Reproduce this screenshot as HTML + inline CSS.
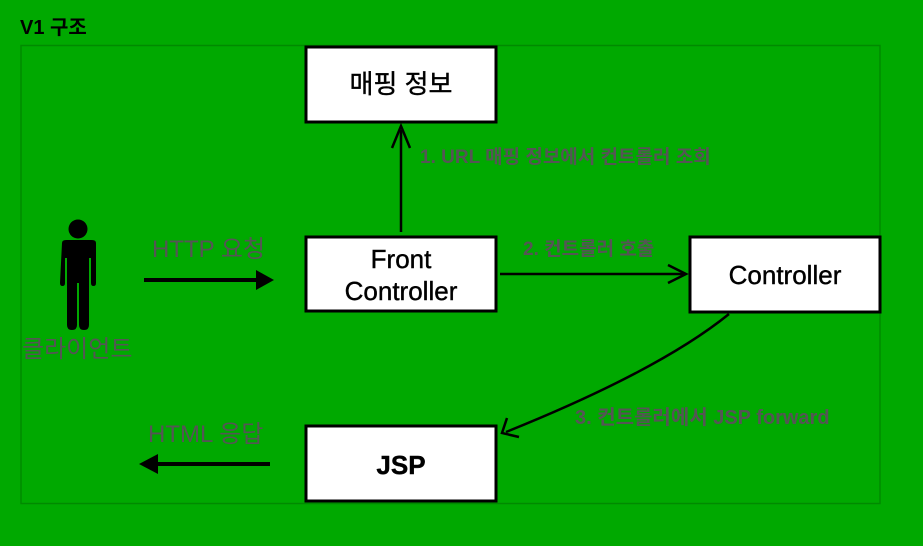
<!DOCTYPE html>
<html><head><meta charset="utf-8"><style>
html,body{margin:0;padding:0;background:#00a900;}
svg{display:block;}
text{font-family:"Liberation Sans","Noto Sans CJK KR",sans-serif;}
</style></head><body>
<svg width="923" height="546" viewBox="0 0 923 546" xmlns="http://www.w3.org/2000/svg">
<rect width="923" height="546" fill="#00a900"/>
<text x="20" y="34" font-size="20" font-weight="bold" fill="#000">V1 구조</text>
<rect x="21" y="45.5" width="859" height="458" fill="none" stroke="#008a00" stroke-width="1.5"/>
<g fill="#fff" stroke="#000" stroke-width="3">
<rect x="306" y="47" width="190" height="75"/>
<rect x="306" y="237" width="190" height="74"/>
<rect x="690" y="237" width="190" height="75"/>
<rect x="306" y="426" width="190" height="75"/>
</g>
<g font-size="26" fill="#000" text-anchor="middle" stroke="#000" stroke-width="0.4">
<text x="401" y="93">매핑 정보</text>
<text x="401" y="268">Front</text>
<text x="401" y="300">Controller</text>
<text x="785" y="284">Controller</text>
<text x="401" y="474" font-weight="bold">JSP</text>
</g>
<g fill="#000">
<circle cx="78" cy="229" r="9.5"/>
<path d="M62 243 Q62 240 66 240 L92 240 Q96 240 96 243 L96 283 Q96 286 93.5 286 Q91 286 91 283 L91 258 L89 258 L89 325 Q89 330 84 330 Q79 330 79 325 L79 283 L77 283 L77 325 Q77 330 72 330 Q67 330 67 325 L67 258 L65 258 L65 283 Q65 286 62.5 286 Q60 286 60 283 Z"/>
</g>
<g font-size="24" fill="#555">
<text x="22" y="357">클라이언트</text>
<text x="152" y="257">HTTP 요청</text>
<text x="148" y="442">HTML 응답</text>
</g>
<g font-size="19" font-weight="bold" fill="#555">
<text x="420" y="163">1. URL 매핑 정보에서 컨트롤러 조회</text>
<text x="523" y="255">2. 컨트롤러 호출</text>
<text x="575" y="424" font-size="20">3. 컨트롤러에서 JSP forward</text>
</g>
<g stroke="#000" fill="none">
<line x1="144" y1="280" x2="258" y2="280" stroke-width="4"/>
<line x1="270" y1="464" x2="158" y2="464" stroke-width="4"/>
<line x1="401" y1="232" x2="401" y2="130" stroke-width="2.5"/>
<path d="M392 148 L401 126 L410 148" stroke-width="2.5"/>
<line x1="500" y1="274" x2="684" y2="274" stroke-width="2.5"/>
<path d="M668 265 L686 274 L668 283" stroke-width="2.5"/>
<path d="M729 314 Q660 370 506 432" stroke-width="2.5"/>
<path d="M507 418 L502 433 L519 437" stroke-width="2.5"/>
</g>
<g fill="#000">
<polygon points="256,270 274,280 256,290"/>
<polygon points="158,454 139,464 158,474"/>
</g>
</svg>
</body></html>
